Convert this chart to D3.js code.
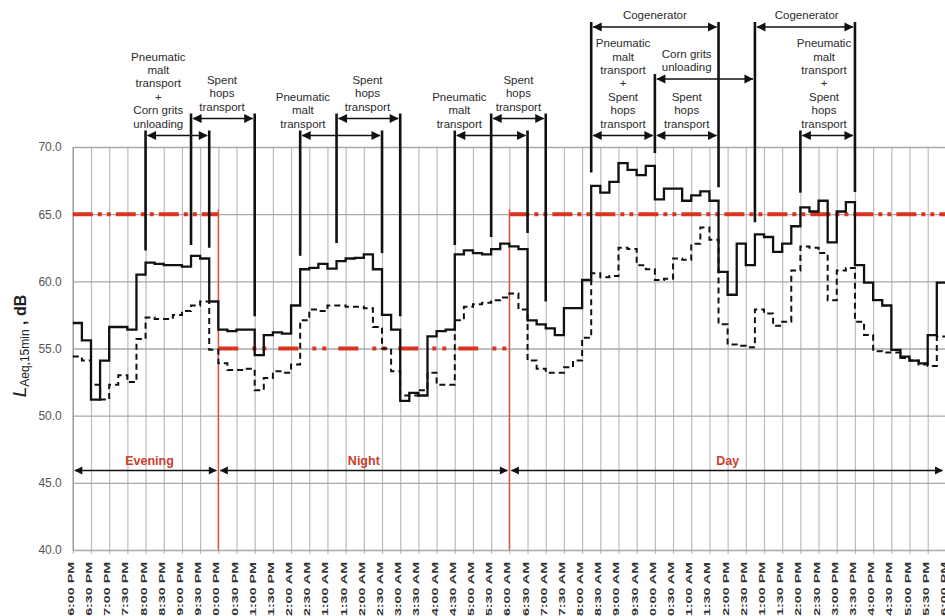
<!DOCTYPE html>
<html>
<head>
<meta charset="utf-8">
<script src="https://cdn.jsdelivr.net/npm/d3@7"></script>
<style>
  body { margin: 0; background: #fff; }
  svg { display: block; font-family: "Liberation Sans", Arial, sans-serif; }
</style>
</head>
<body>
<svg id="chart" width="945" height="616"></svg>
<script>
// 15-minute values, 6:00 PM -> 6:00 PM next day
var leqSolid = [56.9, 55.6, 51.2, 54.1, 56.6, 56.6, 56.4, 60.5, 61.4, 61.3, 61.2, 61.2, 61.1, 61.9, 61.7, 58.5,
  56.4, 56.3, 56.4, 56.4, 54.5, 56.0, 56.2, 56.1, 58.2, 60.9, 61.0, 61.3, 60.95, 61.5, 61.7, 61.75,
  62.0, 60.9, 57.5, 56.4, 51.1, 51.7, 51.5, 55.9, 56.3, 56.4, 62.0, 62.3, 62.1, 62.0, 62.4, 62.8,
  62.6, 62.4, 57.1, 56.8, 56.5, 56.0, 58.0, 58.0, 60.1, 67.1, 66.6, 67.4, 68.8, 68.3, 67.9, 68.6,
  66.1, 66.9, 66.9, 66.0, 66.4, 66.7, 66.0, 60.7, 59.0, 62.8, 61.2, 63.5, 63.3, 62.2, 62.8, 64.1,
  65.5, 65.2, 66.0, 62.9, 65.2, 65.9, 61.2, 59.9, 58.6, 58.2, 54.9, 54.4, 54.1, 53.9, 56.0, 59.9]

var leqDashed = [54.4, 54.1, 52.3, 51.2, 52.3, 53.0, 52.5, 55.7, 57.3, 57.2, 57.2, 57.5, 57.8, 58.2, 58.5, 54.9,
  53.9, 53.4, 53.4, 53.5, 51.9, 52.8, 53.3, 53.2, 53.8, 57.1, 57.9, 57.8, 58.2, 58.2, 58.1, 58.1,
  58.0, 56.6, 55.0, 53.3, 51.5, 51.5, 51.9, 53.2, 52.3, 52.3, 57.1, 58.1, 58.3, 58.4, 58.6, 58.8,
  59.1, 57.9, 54.1, 53.5, 53.2, 53.2, 53.6, 54.1, 55.8, 60.6, 60.3, 60.4, 62.5, 62.4, 61.2, 60.9,
  60.1, 60.2, 61.7, 61.6, 62.8, 64.0, 63.1, 56.8, 55.3, 55.2, 55.1, 57.9, 57.6, 56.7, 57.0, 60.8,
  62.6, 62.5, 62.1, 58.6, 60.8, 61.0, 57.0, 56.0, 54.8, 54.7, 54.7, 54.3, 54.1, 53.8, 53.7, 55.9]

var timeLabels = ["6:00 PM", "6:30 PM", "7:00 PM", "7:30 PM", "8:00 PM", "8:30 PM", "9:00 PM", "9:30 PM",
  "10:00 PM", "10:30 PM", "11:00 PM", "11:30 PM", "12:00 AM", "12:30 AM", "1:00 AM", "1:30 AM",
  "2:00 AM", "2:30 AM", "3:00 AM", "3:30 AM", "4:00 AM", "4:30 AM", "5:00 AM", "5:30 AM",
  "6:00 AM", "6:30 AM", "7:00 AM", "7:30 AM", "8:00 AM", "8:30 AM", "9:00 AM", "9:30 AM",
  "10:00 AM", "10:30 AM", "11:00 AM", "11:30 AM", "12:00 PM", "12:30 PM", "1:00 PM", "1:30 PM",
  "2:00 PM", "2:30 PM", "3:00 PM", "3:30 PM", "4:00 PM", "4:30 PM", "5:00 PM", "5:30 PM", "6:00 PM"]

var yTicks = [40, 45, 50, 55, 60, 65, 70]

// periods with their limit levels (dB)
var periods = [
  { name: "Evening", from: 0, to: 16, limit: 65 },
  { name: "Night", from: 16, to: 48, limit: 55 },
  { name: "Day", from: 48, to: 96, limit: 65 }
]

// noise source events, in 15-min steps from 6:00 PM; labelAt = where the text sits
var events = [
  { from: 8, to: 15, row: "low", labelAt: 9.4, lines: ["Pneumatic", "malt", "transport", "+", "Corn grits", "unloading"] },
  { from: 13, to: 20, row: "mid", labelAt: 16.4, lines: ["Spent", "hops", "transport"] },
  { from: 25, to: 34, row: "low", labelAt: 25.3, lines: ["Pneumatic", "malt", "transport"] },
  { from: 29, to: 36, row: "mid", labelAt: 32.4, lines: ["Spent", "hops", "transport"] },
  { from: 42, to: 50, row: "low", labelAt: 42.5, lines: ["Pneumatic", "malt", "transport"] },
  { from: 46, to: 52, row: "mid", labelAt: 49.0, lines: ["Spent", "hops", "transport"] },
  { from: 57, to: 71, row: "top", labelAt: 64.0, lines: ["Cogenerator"] },
  { from: 57, to: 64, row: "low", labelAt: 60.5, lines: ["Pneumatic", "malt", "transport", "+", "Spent", "hops", "transport"] },
  { from: 64, to: 75, row: "high", labelAt: 67.5, lines: ["Corn grits", "unloading"] },
  { from: 64, to: 71, row: "low", labelAt: 67.5, lines: ["Spent", "hops", "transport"] },
  { from: 75, to: 86, row: "top", labelAt: 80.7, lines: ["Cogenerator"] },
  { from: 80, to: 86, row: "low", labelAt: 82.6, lines: ["Pneumatic", "malt", "transport", "+", "Spent", "hops", "transport"] }
]

// level (dB) where each event marker line stops
var markerBottoms = [
  { t: 8, level: 62.3 }, { t: 13, level: 62.7 }, { t: 15, level: 62.5 }, { t: 20, level: 57.4 },
  { t: 25, level: 61.9 }, { t: 29, level: 62.85 }, { t: 34, level: 62.1 }, { t: 36, level: 57.4 },
  { t: 42, level: 62.7 }, { t: 46, level: 63.3 }, { t: 50, level: 63.6 }, { t: 52, level: 58.5 },
  { t: 57, level: 68.1 }, { t: 64, level: 69.55 }, { t: 71, level: 67.0 }, { t: 75, level: 64.4 },
  { t: 80, level: 66.6 }, { t: 86, level: 66.65 }
]

var plotLeft = 72.8, plotRight = 945.9, plotTop = 147, plotBottom = 550
var rowY = { top: 27, high: 79, mid: 118.5, low: 135.5 }

var svg = d3.select("#chart")
svg.append("rect").attr("width", 945).attr("height", 616).attr("fill", "#fff")

var x = d3.scaleLinear().domain([0, 96]).range([plotLeft, plotRight])
var y = d3.scaleLinear().domain([40, 70]).range([plotBottom, plotTop])

// vertical grid + time labels (the picture crops them at the bottom)
var xAxis = svg.append("g")
  .attr("transform", "translate(0," + plotBottom + ")")
  .call(d3.axisBottom(x)
    .tickValues(d3.range(0, 97, 2))
    .tickFormat(function (d, i) { return timeLabels[i] })
    .tickSizeInner(-(plotBottom - plotTop))
    .tickSizeOuter(0))
xAxis.select(".domain").remove()
xAxis.selectAll(".tick line")
  .attr("y1", 4)
  .attr("stroke", "#bcbcbc")
  .attr("stroke-width", 1.2)
xAxis.selectAll(".tick text")
  .attr("x", null).attr("y", null).attr("dy", null)
  .attr("text-anchor", "end")
  .attr("transform", "translate(0.5,12) rotate(-90) scale(1.5,1)")
  .attr("fill", "#333")
  .style("font-size", "9.5px")
  .style("font-weight", "bold")
  .style("font-family", "'Liberation Sans', Arial, sans-serif")

// horizontal grid + dB labels
var yAxis = svg.append("g")
  .attr("transform", "translate(" + plotLeft + ",0)")
  .call(d3.axisLeft(y)
    .tickValues(yTicks)
    .tickFormat(d3.format(".1f"))
    .tickSizeInner(-(plotRight - plotLeft))
    .tickSizeOuter(0)
    .tickPadding(11))
yAxis.select(".domain").attr("stroke", "#9a9a9a").attr("stroke-width", 1.4)
yAxis.selectAll(".tick line").attr("stroke", "#a9a9a9").attr("stroke-width", 1.4)
yAxis.selectAll(".tick text")
  .attr("fill", "#555")
  .style("font-size", "12px")
  .style("font-family", "'Liberation Sans', Arial, sans-serif")

// y title
var yTitle = svg.append("text")
  .attr("transform", "translate(26,346) rotate(-90)")
  .attr("text-anchor", "middle")
  .attr("fill", "#222")
yTitle.append("tspan").text("L").style("font-size", "19px").style("font-style", "italic")
yTitle.append("tspan").text("Aeq,15min").style("font-size", "12px").attr("dy", 3)
yTitle.append("tspan").text(" , dB").style("font-size", "16px").style("font-weight", "bold").attr("dy", -3)

// limit lines per period
var dashFor = { Evening: "20,5,4,5,4,5", Night: "20,14,4,6,4,12", Day: "20,5,4,5,4,5" }
svg.selectAll("limitLines")
  .data(periods)
  .enter()
  .append("line")
  .attr("x1", function (d) { return x(d.from) })
  .attr("x2", function (d) { return x(d.to) })
  .attr("y1", function (d) { return y(d.limit) })
  .attr("y2", function (d) { return y(d.limit) })
  .attr("stroke", "#d9341f")
  .attr("stroke-width", 4)
  .attr("stroke-dasharray", function (d) { return dashFor[d.name] })

// red period boundaries
svg.selectAll("periodEdges")
  .data(periods.slice(1))
  .enter()
  .append("line")
  .attr("x1", function (d) { return x(d.from) })
  .attr("x2", function (d) { return x(d.from) })
  .attr("y1", y(65) - 5)
  .attr("y2", plotBottom)
  .attr("stroke", "#e0533f")
  .attr("stroke-width", 1.4)

function doubleArrow(parent, x1, x2, yy, len, half, width) {
  parent.append("line")
    .attr("x1", x1 + 2).attr("x2", x2 - 2)
    .attr("y1", yy).attr("y2", yy)
    .attr("stroke", "#111").attr("stroke-width", width)
  parent.append("path")
    .attr("d", "M" + (x1 + 1.5) + "," + yy + "L" + (x1 + 1.5 + len) + "," + (yy - half) + "L" + (x1 + 1.5 + len) + "," + (yy + half) + "Z")
    .attr("fill", "#111")
  parent.append("path")
    .attr("d", "M" + (x2 - 1.5) + "," + yy + "L" + (x2 - 1.5 - len) + "," + (yy - half) + "L" + (x2 - 1.5 - len) + "," + (yy + half) + "Z")
    .attr("fill", "#111")
}

// period arrows and names
var periodLayer = svg.append("g")
periods.forEach(function (p) {
  doubleArrow(periodLayer, x(p.from), Math.min(x(p.to), 944.5), 470.5, 8, 4, 1.3)
  periodLayer.append("text")
    .attr("x", x((p.from + p.to) / 2) + (p.name == "Evening" ? 4 : 0))
    .attr("y", 465)
    .attr("text-anchor", "middle")
    .attr("fill", "#c9412d")
    .style("font-size", "12.5px")
    .style("font-weight", "bold")
    .text(p.name)
})

// data lines
var stepLine = d3.line()
  .x(function (d, i) { return x(i) })
  .y(function (d) { return y(d) })
  .curve(d3.curveStepAfter)

svg.append("path")
  .datum(leqDashed.concat([leqDashed[leqDashed.length - 1]]))
  .attr("d", stepLine)
  .attr("fill", "none")
  .attr("stroke", "#111")
  .attr("stroke-width", 2)
  .attr("stroke-dasharray", "6,4")

svg.append("path")
  .datum(leqSolid.concat([leqSolid[leqSolid.length - 1]]))
  .attr("d", stepLine)
  .attr("fill", "none")
  .attr("stroke", "#111")
  .attr("stroke-width", 2.3)

// event markers
svg.selectAll("markers")
  .data(markerBottoms)
  .enter()
  .append("line")
  .attr("x1", function (d) { return x(d.t) })
  .attr("x2", function (d) { return x(d.t) })
  .attr("y1", function (d) {
    var tops = events.filter(function (e) { return e.from == d.t || e.to == d.t })
      .map(function (e) { return rowY[e.row] })
    return d3.min(tops) - 5
  })
  .attr("y2", function (d) { return y(d.level) })
  .attr("stroke", "#111")
  .attr("stroke-width", 2.6)

// event arrows and texts
var eventLayer = svg.append("g")
events.forEach(function (e) {
  var ry = rowY[e.row]
  doubleArrow(eventLayer, x(e.from), x(e.to), ry, 9, 4.5, 1.4)
  var txt = eventLayer.append("text")
    .attr("text-anchor", "middle")
    .attr("fill", "#2b2b2b")
    .style("font-size", "11.5px")
  var n = e.lines.length
  e.lines.forEach(function (l, k) {
    txt.append("tspan")
      .attr("x", x(e.labelAt))
      .attr("y", ry - 8 - (n - 1 - k) * 13.4)
      .text(l)
  })
})
</script>
</body>
</html>
